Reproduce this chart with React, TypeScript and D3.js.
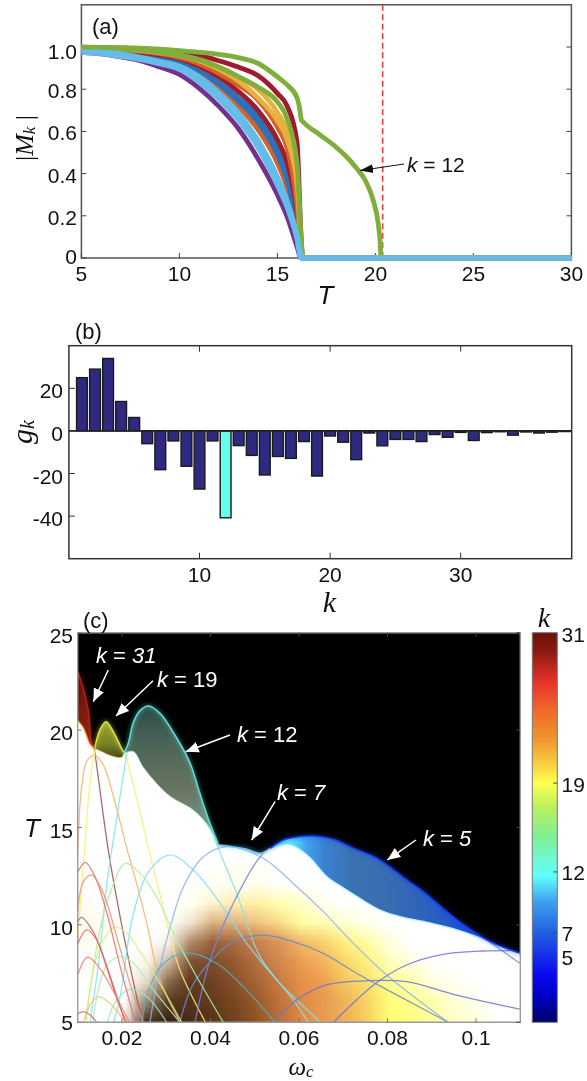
import React from 'react';
import * as d3 from 'd3';

// panel (a): order parameters |M_k| against T
const tGrid = [5, 6, 7, 8, 9, 10, 11, 12, 13, 14, 15, 15.5, 16, 16.2, 16.3, 30];
const purpleM = [.975, .967, .953, .935, .905, .87, .805, .72, .615, .472, .30, .195, .054, 0, 0, 0];
const orangeAM = [.99, .985, .975, .96, .945, .92, .875, .81, .72, .61, .45, .33, .12, .03, 0, 0];
const blueAM = [.99, .985, .977, .965, .95, .93, .888, .825, .745, .645, .49, .37, .15, .03, 0, 0];
const blueBM = [.99, .986, .98, .97, .955, .935, .895, .835, .76, .668, .52, .40, .17, .04, 0, 0];
const redAM = [.995, .99, .985, .975, .962, .945, .91, .86, .79, .70, .56, .45, .22, .05, 0, 0];
const orangeBM = [.995, .992, .987, .98, .968, .95, .92, .875, .82, .75, .62, .52, .25, .06, 0, 0];
const yellowAM = [.997, .995, .99, .983, .973, .958, .935, .895, .84, .76, .65, .56, .35, .08, 0, 0];
const yellowBM = [.998, .995, .99, .985, .977, .962, .94, .905, .86, .80, .69, .60, .40, .09, 0, 0];
const redBM = [.998, .997, .995, .992, .986, .976, .96, .935, .905, .865, .78, .72, .55, .12, 0, 0];
const greenBM = [.995, .995, .99, .985, .975, .96, .94, .905, .86, .81, .74, .66, .45, .1, 0, 0];
const lightAM = [.985, .978, .967, .952, .932, .91, .86, .785, .69, .56, .385, .27, .11, .02, 0, 0];
const lightBM = [.975, .968, .955, .94, .92, .895, .835, .755, .655, .525, .345, .24, .09, 0, 0, 0];
const k12T = [5, 6, 7, 8, 9, 10, 11, 12, 13, 14, 15, 15.5, 16, 16.15, 16.22, 16.3, 17, 18, 18.5, 19, 19.5, 19.9, 20.15, 20.22, 20.3, 30];
const k12M = [1, .998, .997, .995, .99, .983, .975, .965, .95, .923, .859, .82, .76, .70, .655, .646, .595, .525, .482, .43, .365, .27, .16, .1, 0, 0];
const aXTicks = [5, 10, 15, 20, 25, 30];
const aYTicks = [0, .2, .4, .6, .8, 1];
const criticalT = 20.37;

// panel (b): couplings g_k
const gK = [25, 29, 34, 13.8, 6.3, -6, -18.2, -4.7, -16.6, -27.3, -4.7, -40.8, -6.9, -11.5, -20.7, -12, -12.9, -5, -21.2, -2.4, -5.3, -13.5, -1, -7, -4, -4, -5, -1.7, -3, -0.7, -4.5, -0.8, -0.4, -2, -0.5, -1, -0.6, -0.3];
const bXTicks = [10, 20, 30];
const bYTicks = [20, 0, -20, -40];

// panel (c): boundary of the ordered region
const envOmega = [.01, .0113, .0124, .0132, .0139, .015, .0164, .0181, .0199, .0205, .0214, .0226, .0241, .026, .0286, .0324, .0354, .0376, .0399, .0414, .0418, .0452, .0482, .0512, .0535, .0565, .0602, .0632, .0678, .0723, .0776, .0844, .0881, .0957, .1032, .11];
const envT = [23, 22.1, 21, 19.3, 19.1, 20, 20.43, 19.9, 19.06, 18.84, 19.3, 20.4, 21, 21.24, 20.86, 19.58, 18.3, 16.75, 15.2, 14.36, 14.1, 14, 13.88, 13.67, 13.93, 14.36, 14.53, 14.56, 14.39, 13.93, 13.42, 12.3, 11.7, 10.25, 9.14, 8.54];
const k31LowOmega = [.01, .0113, .0128, .0139];
const k31LowT = [20.5, 20.1, 19.3, 19.06];
const k19LowOmega = [.0139, .0154, .0173, .0199, .0205];
const k19LowT = [19.06, 18.9, 18.7, 18.6, 18.84];
const k12LowOmega = [.0205, .0226, .0248, .0278, .0309, .0361, .0391, .0414];
const k12LowT = [18.84, 18.9, 18.1, 17.27, 16.6, 15.9, 15.2, 14.36];
const k5LowOmega = [.0535, .058, .0618, .0663, .07, .0731, .0783, .0828, .0881, .0957, .1032, .1077, .11];
const k5LowT = [13.93, 14.1, 13.59, 12.47, 11.9, 11.45, 10.76, 10.42, 10.17, 9.74, 9.14, 8.7, 8.54];

// panel (c): colours of the warm dome, sampled on a coarse grid
const heatOmega = [.01, .015, .02, .025, .03, .035, .04, .045, .05, .055, .06, .065, .07, .075, .08, .085, .09, .095, .1, .105, .11];
const heatT = [5, 6, 7, 8, 9, 10, 11, 12];
const W = '#ffffff';
const heatRows = [
  [W, W, '#fdf8f0', '#4a3420', '#3a2212', '#4a2c14', '#5a3418', '#70401f', '#905428', '#b86c35', '#e08a45', '#e89a50', '#f0b055', '#f8d060', '#ffff70', '#ffff80', '#ffffa0', '#ffffc8', '#ffffe0', W, W],
  [W, W, W, '#a08c74', '#5a3c24', '#54321a', '#643c1c', '#7a4722', '#9a5a2c', '#c07238', '#e08a45', '#e89a50', '#f0b458', '#f8d464', '#ffff78', '#ffff90', '#ffffb0', '#ffffd8', '#fffff0', W, W],
  [W, W, W, '#e8dcc8', '#8a6a50', '#603a20', '#6e4222', '#885028', '#a86535', '#c87a40', '#e69048', '#eca050', '#f6c85c', '#fbe070', '#ffff90', '#ffffb0', '#ffffe0', '#fffff5', W, W, W],
  [W, W, W, '#fbf6ec', '#d0bca4', '#7e5232', '#7e4c28', '#955a30', '#b87040', '#d08650', '#ea9c52', '#f2b45c', '#fbd868', '#fff080', '#ffffb8', '#ffffe0', W, W, W, W, W],
  ['#fffaf0', '#fffdf5', W, W, '#f8f0e4', '#b08a68', '#986038', '#a86c42', '#c87e4c', '#dc9458', '#f2b866', '#f8d06c', '#fff080', '#ffffa0', '#ffffe0', W, W, W, W, W, W],
  ['#fffaf0', '#fffdf5', W, W, W, '#f2e6d2', '#d8b080', '#e0b080', '#eec080', '#f8d888', '#ffffa0', '#ffffb0', '#ffffd0', '#fffff0', W, W, W, W, W, W, W],
  ['#fffaf0', W, W, W, W, '#fffff0', '#fff4cc', '#ffeeb0', '#fff0a0', '#ffffb0', '#ffffc8', '#fffff0', W, W, W, W, W, W, W, W, W],
  [W, W, W, W, W, W, '#fffff4', '#fffff0', '#fffff0', W, W, W, W, W, W, W, W, W, W, W, W],
];

// panel (c): individual T_c(omega_c) curves, [omega, T] pairs with their colours
const arcColors = ['#a0504f', '#f4b26c', '#f8ee70', '#7fe8e0', '#80e0f8', '#88b4f0', '#6e88e0', '#6a88c8', '#50b0c0', '#6a78d0', '#7070e0', '#b0f0a0', '#d8f080', '#b0ecb0', '#a0e8c0', '#e87070', '#f09070', '#c06060', '#e06868', '#f08070', '#f8c070', '#e06060'];
const arcs: number[][][] = [
  [[.01, 23], [.0124, 21.03], [.0139, 18.81], [.0169, 13.85], [.0196, 10.4], [.0218, 7.9], [.0245, 5.12]],
  [[.01, 13.59], [.0109, 17.1], [.0122, 18.47], [.0139, 18.69], [.0158, 18.2], [.0181, 16.58], [.0211, 13.93], [.0233, 12.13], [.0256, 10.08], [.0286, 7.17], [.0331, 5.03]],
  [[.01, 9.4], [.0117, 14.36], [.0126, 16.9], [.0139, 18.98], [.015, 20], [.0164, 20.43], [.0184, 19.83], [.0205, 18.89], [.026, 13.93], [.0286, 11.54], [.0305, 9.74], [.0331, 7.69], [.0388, 5.03]],
  [[.0128, 5], [.0147, 8.03], [.0166, 12.13], [.0184, 14.87], [.0214, 19.15], [.0226, 20.43], [.0241, 21.03], [.026, 21.24], [.0286, 20.86], [.0324, 19.58], [.0376, 16.58], [.0418, 13.93], [.0459, 11.62], [.0512, 8.37], [.0587, 6.15], [.0621, 5]],
  [[.0181, 5], [.0196, 6.32], [.0226, 10.6], [.0263, 12.82], [.0309, 13.59], [.0361, 12.82], [.0422, 11.11], [.0482, 9.05], [.055, 7.17], [.0647, 5.03]],
  [[.0263, 5], [.0286, 7.86], [.0309, 9.91], [.0339, 11.96], [.0384, 13.5], [.0437, 14.02], [.0519, 13.42], [.0587, 12.13], [.0655, 10.68], [.0723, 9.05], [.0798, 7.43], [.0937, 5]],
  [[.0365, 5], [.0399, 8.2], [.0448, 10.94], [.0516, 13.59], [.0565, 14.3], [.0632, 14.56], [.0723, 13.93], [.0844, 12.3], [.0957, 10.25], [.1046, 8.88], [.1099, 8.03]],
  [[.0331, 5], [.0358, 6.83], [.0403, 8.2], [.0452, 9.14], [.0519, 9.48], [.0587, 9.14], [.0655, 8.54], [.073, 7.52], [.0828, 6.32], [.0937, 5]],
  [[.0245, 5], [.0263, 6.83], [.0294, 8.03], [.0346, 8.58], [.0414, 8.03], [.0474, 6.83], [.0546, 5]],
  [[.0542, 5], [.0595, 6.15], [.0662, 6.92], [.076, 7.14], [.0843, 7.09], [.0956, 6.4], [.1099, 5.68]],
  [[.0678, 5], [.073, 6.15], [.0779, 7.09], [.0843, 7.94], [.0919, 8.46], [.1016, 8.66], [.1077, 8.68]],
  [[.0117, 5.12], [.0128, 6.66], [.015, 9.74], [.0173, 11.62], [.0207, 13.16], [.0241, 12.65], [.0278, 11.45], [.032, 9.4], [.0369, 7.34], [.0429, 5]],
  [[.012, 5], [.0135, 7.69], [.0158, 9.23], [.0184, 9.88], [.0211, 9.57], [.0248, 8.37], [.0294, 6.66], [.0335, 5]],
  [[.0134, 5], [.015, 7], [.0166, 7.94], [.0196, 8.37], [.0226, 8.03], [.0271, 6.66], [.0331, 5]],
  [[.0167, 5], [.0188, 6.15], [.0218, 6.69], [.0256, 6.32], [.0301, 5]],
  [[.01, 12.7], [.0117, 13.21], [.0139, 12.48], [.0166, 10.6], [.0196, 7.86], [.023, 5]],
  [[.01, 10.68], [.0113, 12.22], [.0132, 12.56], [.0158, 11.62], [.0188, 9.4], [.0218, 7], [.0248, 5]],
  [[.01, 10.17], [.0109, 10.39], [.0135, 9.65], [.0158, 8.37], [.0196, 5.8], [.0207, 5]],
  [[.01, 9.02], [.012, 9.74], [.0143, 9.23], [.0166, 7.77], [.0192, 5.98], [.0211, 5]],
  [[.01, 7.43], [.0122, 8.34], [.015, 7.77], [.0181, 6.57], [.0217, 5]],
  [[.0113, 5], [.0128, 5.89], [.0147, 6.32], [.0177, 5.89], [.0207, 5]],
  [[.01, 5.43], [.0113, 5.55], [.0128, 5.38], [.0143, 5]],
];
const cXTicks = [.02, .04, .06, .08, .1];
const cXLabels = ['0.02', '0.04', '0.06', '0.08', '0.1'];
const cYTicks = [5, 10, 15, 20, 25];

// colour bar: position along the bar, 0 at the top
const barStops = [0, .05, .127, .2, .28, .33, .386, .45, .52, .625, .69, .77, .875, .93, 1];
const barColors = ['#6b1008', '#8f1a10', '#e8322a', '#ee6a2a', '#f09a30', '#f8c840', '#ffff50', '#b8f060', '#80f090', '#60ffff', '#3fa0f0', '#2060e0', '#0a0af0', '#0000c8', '#00006b'];
const barTickLabels = ['31', '19', '12', '7', '5'];
const barTickStops = [0, .386, .614, .77, .84];

const SANS = '"Liberation Sans", Arial, sans-serif';
const SERIF = '"Liberation Serif", "Times New Roman", serif';

const xA = d3.scaleLinear().domain([5, 30]).range([81.4, 571.4]);
const yA = d3.scaleLinear().domain([0, 1.2]).range([258, 4.8]);
const xB = d3.scaleLinear().domain([0, 38.5]).range([68.9, 571.7]);
const yB = d3.scaleLinear().domain([-60, 40]).range([558.7, 345.7]);
const xC = d3.scaleLinear().domain([.01, .11]).range([77.7, 520.3]);
const yC = d3.scaleLinear().domain([5, 25]).range([1022.3, 632.7]);
const barTop = 632.7;
const barH = 389.6;

const lineA = d3.line<number[]>().x(d => xA(d[0])).y(d => yA(d[1])).curve(d3.curveMonotoneX);
const lineC = d3.line<number[]>().x(d => xC(d[0])).y(d => yC(d[1])).curve(d3.curveCatmullRom.alpha(0.5));
// everything above a curve up to the top of the plot
const aboveC = d3.area<number[]>().x(d => xC(d[0])).y0(yC(25)).y1(d => yC(d[1])).curve(d3.curveCatmullRom.alpha(0.5));

const zipPts = (a: number[], b: number[]) => a.map((v, i) => [v, b[i]]);
const envPts = zipPts(envOmega, envT);
const envBetween = (lo: number, hi: number) => envPts.filter(p => p[0] >= lo && p[0] <= hi);

// shades the sampled dome colours in small blocks, like the image cells of the original
const heatAt = (omega: number, t: number) => {
  const fx = Math.min(heatOmega.length - 1.001, Math.max(0, (omega - heatOmega[0]) / .005));
  const fy = Math.min(heatT.length - 1.001, Math.max(0, t - heatT[0]));
  const i = Math.floor(fx);
  const j = Math.floor(fy);
  const low = d3.interpolateRgb(heatRows[j][i], heatRows[j][i + 1])(fx - i);
  const high = d3.interpolateRgb(heatRows[j + 1][i], heatRows[j + 1][i + 1])(fx - i);
  return d3.interpolateRgb(low, high)(fy - j);
};
const cellOmega = .001;
const cellT = .25;
const heatCells = d3.range(.008, .112, cellOmega).flatMap(om =>
  d3.range(4, 13, cellT).map(t => ({ om, t, color: heatAt(om, t) })));

const seriesA: [number[], string][] = [
  [purpleM, '#74308c'],
  [orangeAM, '#d2622a'],
  [blueAM, '#2a72ba'],
  [blueBM, '#2a72ba'],
  [redAM, '#a01c2c'],
  [orangeBM, '#d2622a'],
  [redBM, '#a01c2c'],
  [yellowAM, '#e8b040'],
  [yellowBM, '#e8b040'],
  [greenBM, '#7fae3c'],
  [lightAM, '#65bce8'],
];

const Txt = ({ x, y, size = 21, anchor = 'middle', fill = '#111', family = SANS, italic = false, children }: any) => (
  <text x={x} y={y} fontSize={size} textAnchor={anchor} fill={fill} fontFamily={family} fontStyle={italic ? 'italic' : 'normal'} dominantBaseline="central">{children}</text>
);

const Annot = ({ x, y, val, italicVal = false }: any) => (
  <text x={x} y={y} fontSize={22} fill="#fff" fontFamily={SANS} dominantBaseline="central">
    <tspan fontStyle="italic">k</tspan> = <tspan fontStyle={italicVal ? 'italic' : 'normal'}>{val}</tspan>
  </text>
);

export default function App() {
  return (
    <svg width={587} height={1081} style={{ position: 'absolute', left: 0, top: 0, background: '#fff' }}>
      <defs>
        <filter id="soft" x="-2%" y="-2%" width="104%" height="104%" colorInterpolationFilters="sRGB">
          <feGaussianBlur stdDeviation="0.45" />
        </filter>
        <filter id="heatBlur" x="-10%" y="-10%" width="120%" height="120%" colorInterpolationFilters="sRGB">
          <feGaussianBlur stdDeviation="1.2" />
        </filter>
        <filter id="glow" x="-10%" y="-10%" width="120%" height="120%" colorInterpolationFilters="sRGB">
          <feGaussianBlur stdDeviation="2" />
        </filter>
        <clipPath id="plotC"><rect x={xC(.01)} y={yC(25)} width={xC(.11) - xC(.01)} height={yC(5) - yC(25)} /></clipPath>
        <marker id="headK" markerUnits="userSpaceOnUse" markerWidth="14" markerHeight="10" refX="13" refY="5" orient="auto">
          <path d="M0,0.5 L13,5 L0,9.5 Z" fill="#111" />
        </marker>
        <marker id="headW" markerUnits="userSpaceOnUse" markerWidth="14" markerHeight="12" refX="13" refY="6" orient="auto">
          <path d="M0,0.5 L13,6 L0,11.5 Z" fill="#fff" />
        </marker>
        <linearGradient id="barGrad" x1="0" y1="0" x2="0" y2="1">
          {barStops.map((s, i) => <stop key={i} offset={s} stopColor={barColors[i]} />)}
        </linearGradient>
        <linearGradient id="k5Grad" gradientUnits="userSpaceOnUse" x1={xC(.0535)} x2={xC(.11)} y1="0" y2="0">
          <stop offset="0" stopColor="#60f0ff" />
          <stop offset="0.08" stopColor="#60e8ff" />
          <stop offset="0.15" stopColor="#3f9fe8" />
          <stop offset="0.22" stopColor="#3a80d0" />
          <stop offset="0.33" stopColor="#3a72b0" />
          <stop offset="0.47" stopColor="#3a6cb0" />
          <stop offset="0.65" stopColor="#2a60c0" />
          <stop offset="0.82" stopColor="#1a48d8" />
          <stop offset="1" stopColor="#1030f0" />
        </linearGradient>
        <linearGradient id="k12Grad" gradientUnits="userSpaceOnUse" x1="0" x2="0" y1={yC(21.2)} y2={yC(15)}>
          <stop offset="0" stopColor="#2c4c4a" />
          <stop offset="0.3" stopColor="#4a6458" />
          <stop offset="0.7" stopColor="#6a7660" />
          <stop offset="1" stopColor="#6a9a90" />
        </linearGradient>
        <linearGradient id="k19Grad" gradientUnits="userSpaceOnUse" x1="0" x2="0" y1={yC(20.4)} y2={yC(18.6)}>
          <stop offset="0" stopColor="#9aa030" />
          <stop offset="0.6" stopColor="#7a8424" />
          <stop offset="1" stopColor="#4a4a18" />
        </linearGradient>
        <linearGradient id="k31Grad" gradientUnits="userSpaceOnUse" x1="0" x2="0" y1={yC(23)} y2={yC(19)}>
          <stop offset="0" stopColor="#4a0c08" />
          <stop offset="0.5" stopColor="#7a1a10" />
          <stop offset="1" stopColor="#8f2a10" />
        </linearGradient>
      </defs>

      <g filter="url(#soft)">
        {/* panel (a) */}
        <rect x={xA(5)} y={yA(1.2)} width={xA(30) - xA(5)} height={yA(0) - yA(1.2)} fill="none" stroke="#555" strokeWidth={1.5} />
        {aXTicks.map(t => (
          <g key={t}>
            <line x1={xA(t)} x2={xA(t)} y1={yA(0)} y2={yA(0) - 5} stroke="#444" />
            <Txt x={xA(t)} y={273}>{t}</Txt>
          </g>
        ))}
        {aYTicks.map(t => (
          <g key={t}>
            <line x1={xA(5)} x2={xA(5) + 5} y1={yA(t)} y2={yA(t)} stroke="#444" />
            <line x1={xA(30)} x2={xA(30) - 5} y1={yA(t)} y2={yA(t)} stroke="#444" />
            <Txt x={77} y={yA(t) + (t === 1 ? 4 : t === 0 ? -2 : 1.5)} anchor="end">{t === 0 ? '0' : t.toFixed(1)}</Txt>
          </g>
        ))}
        <line x1={xA(criticalT)} x2={xA(criticalT)} y1={yA(1.2)} y2={yA(0)} stroke="#e8423a" strokeWidth={1.6} strokeDasharray="6 3.5" />
        <g fill="none" strokeWidth={4.8} strokeLinejoin="round">
          {seriesA.map(([vals, color], i) => (
            <path key={i} d={lineA(zipPts(tGrid, vals)) as string} stroke={color} />
          ))}
          <path d={lineA(zipPts(k12T, k12M)) as string} stroke="#7fae3c" />
          <path d={lineA(zipPts(tGrid, lightBM)) as string} stroke="#65bce8" strokeWidth={5} />
        </g>
        <Txt x={92} y={26} size={22} anchor="start">(a)</Txt>
        <Txt x={325.5} y={295} size={26} italic>T</Txt>
        <g transform="translate(24,138) rotate(-90)">
          <text textAnchor="middle" fontSize={26} fill="#111" fontFamily={SERIF} dominantBaseline="central">
            |<tspan fontStyle="italic">M</tspan><tspan fontStyle="italic" fontSize={17} dy={5}>k</tspan><tspan dy={-5}> |</tspan>
          </text>
        </g>
        <line x1={404} y1={164} x2={360} y2={170.5} stroke="#111" strokeWidth={1} markerEnd="url(#headK)" />
        <text x={407} y={164} fontSize={21} fill="#111" fontFamily={SANS} dominantBaseline="central"><tspan fontStyle="italic">k</tspan> = 12</text>

        {/* panel (b) */}
        {gK.map((g, i) => {
          const k = i + 1;
          const w = 10.8;
          return (
            <rect key={k} x={xB(k) - w / 2} y={Math.min(yB(g), yB(0))} width={w} height={Math.abs(yB(g) - yB(0))}
              fill={k === 12 ? '#66ffee' : '#2e2a80'} stroke="#1a1a1a" strokeWidth={1.4} />
          );
        })}
        <line x1={xB(0)} x2={xB(38.5)} y1={yB(0)} y2={yB(0)} stroke="#222" strokeWidth={1.8} />
        <rect x={xB(0)} y={yB(40)} width={xB(38.5) - xB(0)} height={yB(-60) - yB(40)} fill="none" stroke="#333" strokeWidth={1.5} />
        {bXTicks.map(t => (
          <g key={t}>
            <line x1={xB(t)} x2={xB(t)} y1={yB(-60)} y2={yB(-60) - 6} stroke="#333" />
            <line x1={xB(t)} x2={xB(t)} y1={yB(40)} y2={yB(40) + 6} stroke="#333" />
            <Txt x={xB(t)} y={574}>{t}</Txt>
          </g>
        ))}
        {bYTicks.map(t => (
          <g key={t}>
            <line x1={xB(0)} x2={xB(0) + 6} y1={yB(t)} y2={yB(t)} stroke="#333" />
            <Txt x={63} y={yB(t) + 2.5} anchor="end">{t}</Txt>
          </g>
        ))}
        <Txt x={75} y={331} size={22} anchor="start">(b)</Txt>
        <Txt x={329.5} y={601} size={30} italic family={SERIF}>k</Txt>
        <g transform="translate(21,432) rotate(-90)">
          <text textAnchor="middle" fontSize={30} fill="#111" fontFamily={SERIF} fontStyle="italic" dominantBaseline="central">
            g<tspan fontSize={20} dy={6}>k</tspan>
          </text>
        </g>

        {/* panel (c) */}
        <g clipPath="url(#plotC)">
          <rect x={xC(.01)} y={yC(25)} width={xC(.11) - xC(.01)} height={yC(5) - yC(25)} fill="#fff" />
          <g filter="url(#heatBlur)" shapeRendering="crispEdges">
            {heatCells.map(c => (
              <rect key={`${c.om}-${c.t}`} x={xC(c.om)} y={yC(c.t + cellT)}
                width={xC(cellOmega) - xC(0) + 0.5} height={yC(c.t) - yC(c.t + cellT) + 0.5} fill={c.color} />
            ))}
          </g>
          <g fill="none" strokeWidth={1.3} strokeOpacity={0.85}>
            {arcs.map((a, i) => <path key={i} d={lineC(a as any) as string} stroke={arcColors[i]} />)}
          </g>
          {/* ordered bands: filled from their lower edge upward, the black covers what is above the boundary */}
          <path d={aboveC(zipPts(k5LowOmega, k5LowT) as any) as string} fill="url(#k5Grad)" />
          <path d={aboveC(zipPts(k12LowOmega, k12LowT) as any) as string} fill="url(#k12Grad)" />
          <path d={aboveC(zipPts(k19LowOmega, k19LowT) as any) as string} fill="url(#k19Grad)" />
          <path d={aboveC(zipPts(k31LowOmega, k31LowT) as any) as string} fill="url(#k31Grad)" />
          <path d={lineC(zipPts(k31LowOmega, k31LowT) as any) as string} fill="none" stroke="#e8b030" strokeWidth={1.2} />
          <path d={lineC(zipPts(k19LowOmega, k19LowT) as any) as string} fill="none" stroke="#d8c870" strokeWidth={1} />
          <path d={lineC(zipPts(k12LowOmega, k12LowT) as any) as string} fill="none" stroke="#a8d8c8" strokeWidth={1} strokeOpacity={0.7} />
          <path d={lineC(zipPts(k5LowOmega, k5LowT) as any) as string} fill="none" stroke="#c0f4ff" strokeWidth={1.5} />
          {/* black above the boundary */}
          <path d={aboveC(envPts as any) as string} fill="#000" />
          {/* bright edge and its halo */}
          {([[.01, .0139, '#b02018'], [.0139, .0205, '#dede40'], [.0205, .0418, '#60d8d0'], [.0418, .0535, '#70c8f0'], [.0535, .11, '#1040f0']] as [number, number, string][]).map(([lo, hi, c]) => (
            <g key={lo} fill="none" stroke={c}>
              <path d={lineC(envBetween(lo, hi) as any) as string} strokeWidth={2.5} strokeOpacity={0.6} filter="url(#glow)" />
              <path d={lineC(envBetween(lo, hi) as any) as string} strokeWidth={1.6} />
            </g>
          ))}
        </g>
        <path d={`M${xC(.01)},${yC(25)} H${xC(.11)} V${yC(5)} H${xC(.01)} Z`} fill="none" stroke="#999" strokeWidth={1.4} />
        {cXTicks.map((t, i) => (
          <g key={t}>
            <line x1={xC(t)} x2={xC(t)} y1={yC(5)} y2={yC(5) - 4} stroke="#777" />
            <line x1={xC(t)} x2={xC(t)} y1={yC(25)} y2={yC(25) + 4} stroke="#444" />
            <Txt x={xC(t)} y={1037}>{cXLabels[i]}</Txt>
          </g>
        ))}
        {cYTicks.map(t => (
          <g key={t}>
            <line x1={xC(.01)} x2={xC(.01) + 4} y1={yC(t)} y2={yC(t)} stroke="#777" />
            <line x1={xC(.11)} x2={xC(.11) - 4} y1={yC(t)} y2={yC(t)} stroke="#444" />
            <Txt x={73} y={yC(t) + (t === 5 ? 0 : 2.5)} anchor="end">{t}</Txt>
          </g>
        ))}
        <Txt x={83} y={620} size={22} anchor="start">(c)</Txt>
        <Txt x={32} y={828} size={26} italic>T</Txt>
        <text x={301} y={1066} fontSize={25} fill="#111" textAnchor="middle" fontFamily={SERIF} fontStyle="italic" dominantBaseline="central">
          ω<tspan fontSize={17} dy={5}>c</tspan>
        </text>

        {/* annotations */}
        <g stroke="#fff" strokeWidth={1.5} fill="none">
          <line x1={108.3} y1={670} x2={93.3} y2={701.7} markerEnd="url(#headW)" />
          <line x1={153} y1={680.7} x2={116} y2={716} markerEnd="url(#headW)" />
          <line x1={230} y1={735} x2={185.7} y2={751.7} markerEnd="url(#headW)" />
          <line x1={275} y1={801.7} x2={251.7} y2={840} markerEnd="url(#headW)" />
          <line x1={416} y1={840} x2={387.3} y2={860} markerEnd="url(#headW)" />
        </g>
        <Annot x={96} y={655} val="31" italicVal />
        <Annot x={157} y={679} val="19" />
        <Annot x={237} y={734} val="12" />
        <Annot x={277} y={792} val="7" italicVal />
        <Annot x={423} y={838} val="5" italicVal />

        {/* colour bar */}
        <rect x={532.3} y={barTop} width={25} height={barH} fill="url(#barGrad)" stroke="#777" strokeWidth={1} />
        {barTickLabels.map((l, i) => (
          <g key={l}>
            {i > 0 && <line x1={557.3} x2={553.3} y1={barTop + barH * barTickStops[i]} y2={barTop + barH * barTickStops[i]} stroke="#444" />}
            <Txt x={561.5} y={barTop + barH * barTickStops[i] + (i === 0 ? 1.5 : i === 4 ? -2 : 1)} anchor="start">{l}</Txt>
          </g>
        ))}
        <Txt x={544} y={617} size={28} italic family={SERIF}>k</Txt>
      </g>
    </svg>
  );
}
